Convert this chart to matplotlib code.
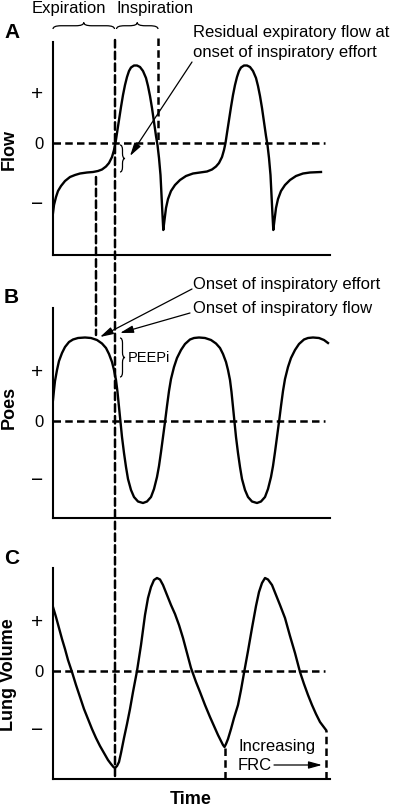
import numpy as np
import matplotlib
matplotlib.use('Agg')
import matplotlib.pyplot as plt
from matplotlib.patches import ConnectionPatch, PathPatch
from matplotlib.path import Path

plt.rcParams['font.family'] = ['Liberation Sans', 'DejaVu Sans']

## Dados (tempo em unidades arbitrarias)

# A) Fluxo
flow_t = [0.0, 0.1, 0.3, 0.5, 0.8, 1.2, 1.7, 2.2, 2.7, 3.4, 4.0, 4.5, 4.9, 5.3, 5.6, 5.9,
          6.1, 6.25, 6.4, 6.6, 6.8, 7.0, 7.2, 7.4, 7.6, 7.8, 8.1, 8.4, 8.7, 9.0, 9.3,
          9.5, 9.7, 9.9, 10.1, 10.3, 10.45, 10.6, 10.75, 10.85, 10.95, 11.03, 11.15,
          11.3, 11.5, 11.8, 12.2, 12.7, 13.3, 14.0, 14.7, 15.4, 15.9, 16.3, 16.6, 16.9,
          17.1, 17.25, 17.4, 17.6, 17.8, 18.0, 18.2, 18.4, 18.6, 18.8, 19.1, 19.4,
          19.7, 20.0, 20.3, 20.5, 20.7, 20.9, 21.1, 21.3, 21.45, 21.6, 21.75, 21.85,
          21.95, 22.03, 22.15, 22.3, 22.5, 22.8, 23.2, 23.7, 24.3, 25.0, 25.7, 26.8]
flow_v = [-7.0, -6.2, -5.4, -4.8, -4.3, -3.8, -3.4, -3.2, -3.05, -2.95, -2.9, -2.8, -2.65,
          -2.35, -2.0, -1.4, -0.7, 0.0, 1.0, 2.3, 3.6, 4.8, 5.8, 6.6, 7.2, 7.55, 7.75,
          7.75, 7.6, 7.2, 6.5, 5.7, 4.7, 3.5, 2.1, 0.7, -0.2, -1.5, -3.2, -5.2, -7.2,
          -8.7, -7.7, -6.5, -5.6, -4.8, -4.2, -3.7, -3.3, -3.05, -2.95, -2.85, -2.65,
          -2.35, -2.0, -1.4, -0.7, 0.0, 1.0, 2.3, 3.6, 4.8, 5.8, 6.6, 7.2, 7.55, 7.75,
          7.75, 7.6, 7.2, 6.5, 5.7, 4.7, 3.5, 2.1, 0.7, -0.2, -1.5, -3.2, -5.2, -7.2,
          -8.7, -7.7, -6.5, -5.6, -4.8, -4.2, -3.7, -3.3, -3.05, -2.95, -2.9]

# B) Pressao esofagica
poes_t = [0.0, 0.1, 0.2, 0.4, 0.6, 0.9, 1.2, 1.6, 2.0, 2.5, 3.2, 3.8, 4.4, 4.9, 5.3, 5.6,
          5.9, 6.1, 6.3, 6.45, 6.6, 6.75, 6.9, 7.1, 7.3, 7.5, 7.8, 8.1, 8.5, 9.0, 9.4,
          9.8, 10.1, 10.4, 10.6, 10.8, 11.0, 11.2, 11.4, 11.6, 11.8, 12.1, 12.4, 12.8,
          13.2, 13.7, 14.1, 14.6, 15.2, 15.8, 16.3, 16.7, 17.0, 17.3, 17.5, 17.7, 17.85,
          18.0, 18.15, 18.3, 18.5, 18.7, 18.9, 19.2, 19.5, 19.9, 20.4, 20.8, 21.2, 21.5,
          21.8, 22.0, 22.2, 22.4, 22.6, 22.8, 23.0, 23.2, 23.5, 23.8, 24.2, 24.6, 25.1,
          25.5, 26.0, 26.6, 27.1, 27.5]
poes_v = [2.1, 3.1, 4.0, 5.1, 6.0, 6.8, 7.4, 7.9, 8.15, 8.3, 8.35, 8.3, 8.1, 7.75, 7.3, 6.7,
          5.9, 5.1, 4.1, 2.9, 1.4, -0.1, -1.6, -3.2, -4.6, -5.8, -6.9, -7.6, -8.05, -8.2,
          -8.05, -7.6, -6.8, -5.6, -4.5, -3.1, -1.6, -0.1, 1.5, 3.0, 4.2, 5.4, 6.3, 7.1,
          7.7, 8.15, 8.3, 8.35, 8.3, 8.1, 7.75, 7.3, 6.7, 5.9, 5.1, 4.1, 2.9,
          1.4, -0.1, -1.6, -3.2, -4.6, -5.8, -6.9, -7.6, -8.05, -8.2, -8.05, -7.6, -6.8,
          -5.6, -4.5, -3.1, -1.6, -0.1, 1.5, 3.0, 4.2, 5.4, 6.3, 7.1, 7.7, 8.15,
          8.3, 8.35, 8.3, 8.1, 7.8]

# C) Volume pulmonar
vol_t = [0.0, 0.3, 0.6, 0.9, 1.2, 1.5, 1.9, 2.3, 2.7, 3.1, 3.5, 3.9, 4.3, 4.7, 5.1, 5.5,
         5.8, 6.05, 6.2, 6.4, 6.6, 6.8, 7.1, 7.4, 7.7, 8.0, 8.4, 8.8, 9.2, 9.5, 9.8,
         10.1, 10.4, 10.7, 11.0, 11.4, 11.8, 12.2, 12.6, 13.0, 13.4, 13.8, 14.3, 14.7,
         15.2, 15.7, 16.1, 16.5, 16.8, 17.0, 17.15, 17.3, 17.5, 17.8, 18.1, 18.5, 18.8,
         19.1, 19.5, 19.9, 20.3, 20.6, 20.9, 21.2, 21.5, 21.9, 22.3, 22.7, 23.2, 23.7,
         24.2, 24.7, 25.1, 25.5, 25.9, 26.3, 26.7, 27.3]
vol_v = [6.4, 5.4, 4.3, 3.2, 2.2, 1.1, -0.1, -1.4, -2.6, -3.8, -4.8, -5.8, -6.7, -7.5, -8.2,
         -8.9, -9.3, -9.6, -9.7, -9.5, -9.1, -8.2, -6.7, -5.3, -3.8, -2.1, 0.0, 2.6, 5.6,
         7.3, 8.4, 9.1, 9.3, 9.15, 8.6, 7.6, 6.6, 5.7, 4.6, 3.3, 1.8, 0.3, -1.1, -2.1,
         -3.4, -4.6, -5.5, -6.4, -7.0, -7.4, -7.6, -7.3, -6.8, -5.8, -4.7, -3.4, -1.9,
         -0.2, 2.0, 4.3, 6.5, 7.9, 8.8, 9.3, 9.15, 8.6, 7.6, 6.6, 5.3, 3.5,
         1.8, -0.1, -1.3, -2.4, -3.4, -4.3, -5.1, -5.9]

## Eventos
inicio_esforco = 4.3
inicio_fluxo = 6.2
fim_insp = 10.5
marcas_frc = [17.15, 27.3]

tick_pos = {'A': [-6.0, 0, 5.1], 'B': [-5.7, 0, 5.1], 'C': [-5.7, 0, 5.1]}
tick_lab = ['\u2212', '0', '+']

W, H = 396, 809
fig = plt.figure(figsize=(W / 100, H / 100), dpi=100)


def caixa(l, t, r, b):
    return [l / W, 1 - b / H, (r - l) / W, (b - t) / H]


def ftext(x, y, s, **kw):
    fig.text(x / W, 1 - y / H, s, **kw)


DASH = (0, (3, 1.7))
LW_D = 1.8

axA = fig.add_axes(caixa(53, 42, 330, 255))
axB = fig.add_axes(caixa(53, 308, 330, 518))
axC = fig.add_axes(caixa(53, 568, 330, 779))


def estilo(ax, ylim, ticks):
    ax.set_xlim(0, 27.7)
    ax.set_ylim(*ylim)
    ax.patch.set_visible(False)
    for s in ['top', 'right']:
        ax.spines[s].set_visible(False)
    for s in ['left', 'bottom']:
        ax.spines[s].set_linewidth(1.5)
    ax.set_xticks([])
    ax.set_yticks(ticks)
    ax.set_yticklabels(tick_lab)
    for lab, fs in zip(ax.get_yticklabels(), [15, 12, 15]):
        lab.set_fontsize(fs)
    ax.tick_params(axis='y', length=0, pad=7)
    ax.plot([0, 27.2], [0, 0], color='k', lw=LW_D, ls=DASH)


def chave(ax, a, b, base, h, vertical=False, q=0.8):
    m = (a + b) / 2
    mid = base + h / 2
    pts = [(a, base), (a, mid), (a + q, mid), (m - q, mid), (m, mid), (m, base + h),
           (m, mid), (m + q, mid), (b - q, mid), (b, mid), (b, base)]
    if vertical:
        pts = [(y, x) for x, y in pts]
    codes = [Path.MOVETO, Path.CURVE3, Path.CURVE3, Path.LINETO, Path.CURVE3, Path.CURVE3,
             Path.CURVE3, Path.CURVE3, Path.LINETO, Path.CURVE3, Path.CURVE3]
    ax.add_patch(PathPatch(Path(pts, codes), fill=False, lw=0.9, color='k', clip_on=False))


seta = dict(arrowstyle='-|>,head_length=0.8,head_width=0.22', lw=0.9, color='k',
            shrinkA=0, shrinkB=0, mutation_scale=10)

estilo(axA, (-11.2, 10.1), tick_pos['A'])
estilo(axB, (-9.7, 11.3), tick_pos['B'])
estilo(axC, (-10.8, 10.3), tick_pos['C'])

axA.plot(flow_t, flow_v, color='k', lw=1.7, solid_joinstyle='round')
axB.plot(poes_t, poes_v, color='k', lw=1.7, solid_joinstyle='round')
axC.plot(vol_t, vol_v, color='k', lw=1.7, solid_joinstyle='round')

## Painel A
axA.plot([fim_insp, fim_insp], [10.5, 0], color='k', lw=LW_D, ls=DASH, clip_on=False)
chave(axA, 0, inicio_fluxo - 0.05, 11.4, 0.65)
chave(axA, inicio_fluxo + 0.15, fim_insp, 11.4, 0.65)
axA.text(1.6, 13.5, 'Expiration', fontsize=12, ha='center', va='center')
axA.text(10.2, 13.5, 'Inspiration', fontsize=12, ha='center', va='center')
chave(axA, -2.9, -0.2, 6.7, 0.5, vertical=True, q=0.5)
axA.text(14.0, 11.0, 'Residual expiratory flow at', fontsize=12, va='center')
axA.text(14.0, 9.0, 'onset of inspiratory effort', fontsize=12, va='center')
axA.annotate('', xy=(7.7, -1.3), xytext=(13.9, 8.1), arrowprops=seta)

## Painel B
chave(axB, 4.4, 8.3, 6.7, 0.5, vertical=True, q=0.5)
axB.text(7.5, 6.3, 'PEEPi', fontsize=10.5, va='center')
axB.text(14.0, 13.6, 'Onset of inspiratory effort', fontsize=12, va='center')
axB.text(14.0, 11.2, 'Onset of inspiratory flow', fontsize=12, va='center')
axB.annotate('', xy=(4.7, 8.4), xytext=(13.9, 13.2), arrowprops=seta)
axB.annotate('', xy=(6.7, 8.8), xytext=(13.7, 10.8), arrowprops=seta)

## Painel C
for tm in marcas_frc:
    topo = np.interp(tm, vol_t, vol_v)
    axC.plot([tm, tm], [-10.8, topo], color='k', lw=LW_D, ls=DASH, clip_on=False)
axC.text(18.5, -7.6, 'Increasing', fontsize=12, va='center')
axC.text(18.5, -9.4, 'FRC', fontsize=12, va='center')
axC.annotate('', xy=(26.9, -9.4), xytext=(22.1, -9.4), arrowprops=seta)

## Linhas tracejadas entre paineis
l1 = ConnectionPatch(xyA=(inicio_fluxo, 10.3), coordsA=axA.transData,
                     xyB=(inicio_fluxo, -10.9), coordsB=axC.transData,
                     color='k', lw=LW_D, ls=DASH)
fig.add_artist(l1)
l2 = ConnectionPatch(xyA=(inicio_esforco, -3.4), coordsA=axA.transData,
                     xyB=(inicio_esforco, 8.6), coordsB=axB.transData,
                     color='k', lw=LW_D, ls=DASH)
fig.add_artist(l2)

## Rotulos
ftext(4, 33, 'A', fontsize=15, fontweight='bold', va='center')
ftext(4, 297, 'B', fontsize=15, fontweight='bold', va='center')
ftext(4, 558, 'C', fontsize=15, fontweight='bold', va='center')
ftext(9, 149, 'Flow', fontsize=13, fontweight='bold', rotation=90, ha='center', va='center')
ftext(9, 407, 'Poes', fontsize=13, fontweight='bold', rotation=90, ha='center', va='center')
ftext(9, 675, 'Lung Volume', fontsize=13, fontweight='bold', rotation=90, ha='center', va='center')
ftext(191, 799, 'Time', fontsize=13, fontweight='bold', ha='center', va='center')

fig.savefig('out.png', dpi=100)
